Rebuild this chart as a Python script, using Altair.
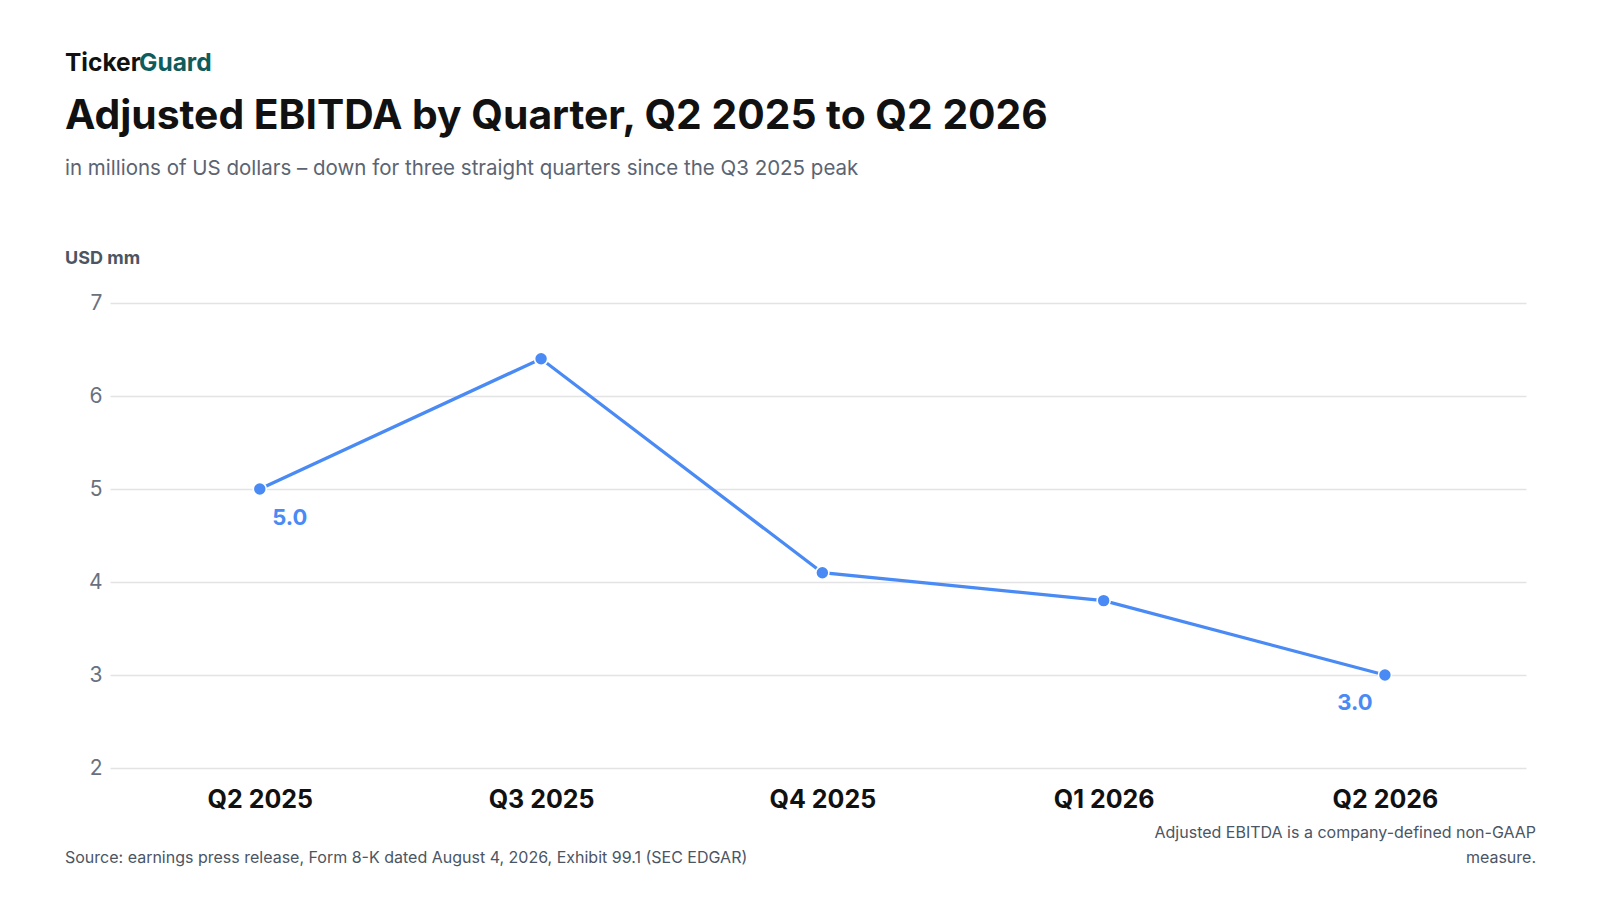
import altair as alt
import pandas as pd

quarters = ["Q2 2025", "Q3 2025", "Q4 2025", "Q1 2026", "Q2 2026"]
ebitda = [5.0, 6.4, 4.1, 3.8, 3.0]
y_ticks = [2, 3, 4, 5, 6, 7]

brand_a = "Ticker"
brand_b = "Guard"
title = "Adjusted EBITDA by Quarter, Q2 2025 to Q2 2026"
subtitle = "in millions of US dollars \u2013 down for three straight quarters since the Q3 2025 peak"
y_label = "USD mm"
source = "Source: earnings press release, Form 8-K dated August 4, 2026, Exhibit 99.1 (SEC EDGAR)"
note_lines = ["Adjusted EBITDA is a company-defined non-GAAP", "measure."]

FONT = "Inter"
BLUE = "#4a8af4"

df = pd.DataFrame({"quarter": quarters, "value": ebitda})
df["label"] = [f"{v:.1f}" for v in ebitda]

x_enc = alt.X("quarter:N", sort=quarters,
              scale=alt.Scale(type="point", padding=0.517, align=0.515),
              axis=alt.Axis(title=None, labelAngle=0, labelFont=FONT, labelFontSize=25,
                            labelFontWeight="bold", labelColor="#111111", labelPadding=19,
                            domain=False, ticks=False, grid=False))
y_enc = alt.Y("value:Q",
              scale=alt.Scale(domain=[2, 7], nice=False, zero=False),
              axis=alt.Axis(title=None, values=y_ticks, labelFont=FONT, labelFontSize=21,
                            labelColor="#687180", labelPadding=8, domain=False, ticks=False,
                            grid=True, gridColor="#e3e3e3", gridWidth=1.5))

base = alt.Chart(df)
line = base.mark_line(color=BLUE, strokeWidth=3.3).encode(x=x_enc, y=y_enc)
pts = base.mark_point(filled=True, color=BLUE, size=170, stroke="white",
                      strokeWidth=1.6, opacity=1).encode(x=x_enc, y=y_enc)
lab_first = base.transform_filter(alt.datum.quarter == quarters[0]).mark_text(
    font=FONT, fontSize=22, fontWeight="bold", color=BLUE, dx=30, dy=36,
    baseline="alphabetic"
).encode(x=x_enc, y=y_enc, text="label:N")
lab_last = base.transform_filter(alt.datum.quarter == quarters[-1]).mark_text(
    font=FONT, fontSize=22, fontWeight="bold", color=BLUE, dx=-30, dy=35,
    baseline="alphabetic"
).encode(x=x_enc, y=y_enc, text="label:N")


def txt(s, x, y, size, color, weight="normal", align="left"):
    return alt.Chart(pd.DataFrame({"t": [s]})).mark_text(
        font=FONT, fontSize=size, fontWeight=weight, color=color, align=align,
        baseline="alphabetic"
    ).encode(text="t:N", x=alt.value(x), y=alt.value(y))


texts = [
    txt(brand_a, -45, -232, 24.5, "#111111", "bold"),
    txt(brand_b, 29, -232, 24.5, "#0f5c5c", "bold"),
    txt(title, -45, -174, 40.8, "#111111", "bold"),
    txt(subtitle, -45, -128, 20.5, "#5b6472"),
    txt(y_label, -45, -39, 18, "#4b5563", "bold"),
    txt(source, -45, 560, 16, "#4b5563"),
    txt(note_lines[0], 1426, 535, 16, "#4b5563", align="right"),
    txt(note_lines[1], 1426, 560, 16, "#4b5563", align="right"),
]

chart = alt.layer(line, pts, lab_first, lab_last, *texts).properties(
    width=1416, height=465,
    padding={"left": 102, "top": 295, "right": 66, "bottom": 110},
    autosize=alt.AutoSizeParams(type="none"),
    background="white",
).configure_view(stroke=None)

chart.save("out.html", embed_options={"renderer": "svg", "actions": False})
